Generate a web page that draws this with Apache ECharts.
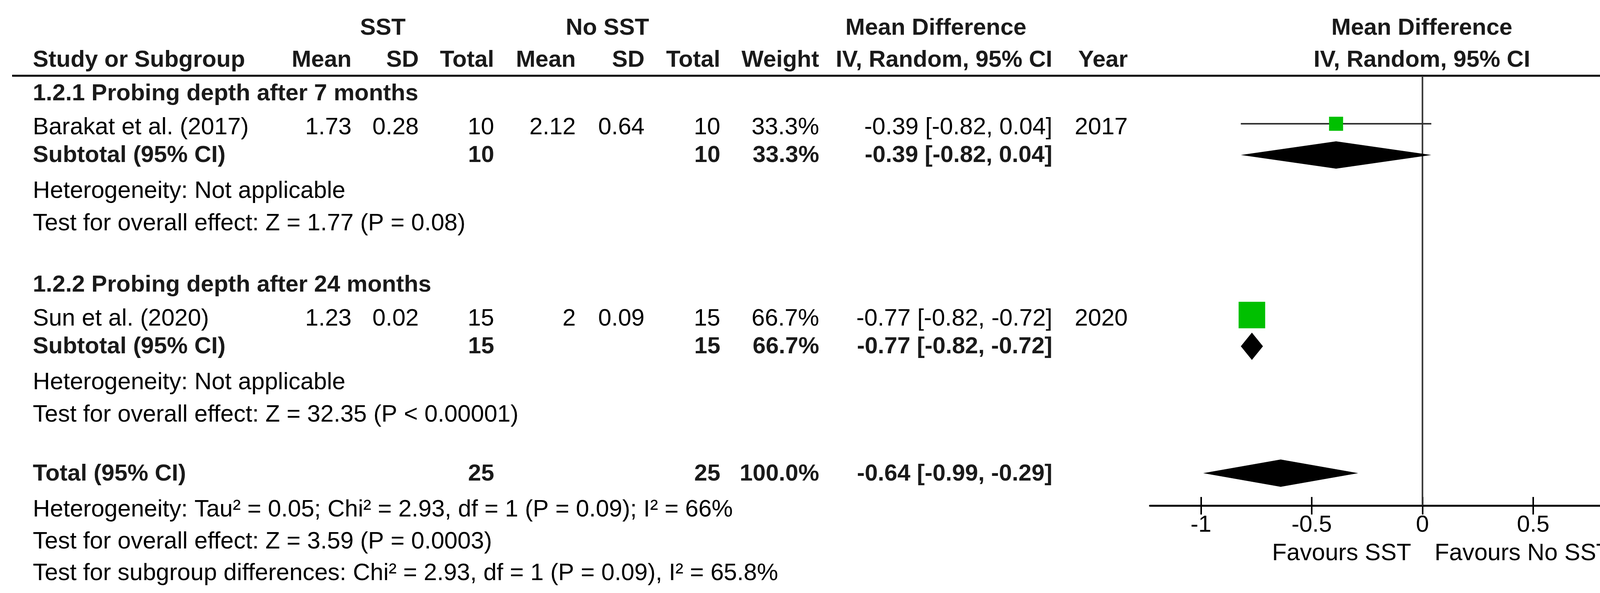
<!DOCTYPE html>
<html><head><meta charset="utf-8">
<script src="https://cdn.jsdelivr.net/npm/echarts@6/dist/echarts.min.js"></script>
<style>html,body{margin:0;padding:0;background:#fff}#c{width:4395px;height:1519px}</style>
</head><body><div id="c"></div>
<script>
// ---------------- DATA ----------------
const groupLabels = ['1.2.1 Probing depth after 7 months', '1.2.2 Probing depth after 24 months'];
const studies = ['Barakat et al. (2017)', 'Sun et al. (2020)'];
const sstMean = [1.73, 1.23];
const sstSD = [0.28, 0.02];
const sstN = [10, 15];
const noMean = [2.12, 2];
const noSD = [0.64, 0.09];
const noN = [10, 15];
const weights = [33.3, 66.7];
const md = [-0.39, -0.77];
const mdLo = [-0.82, -0.82];
const mdHi = [0.04, -0.72];
const years = [2017, 2020];
const subN1 = [10, 15];
const subN2 = [10, 15];
const subWeight = [33.3, 66.7];
const subMD = [-0.39, -0.77];
const subLo = [-0.82, -0.82];
const subHi = [0.04, -0.72];
const subHet = ['Heterogeneity: Not applicable', 'Heterogeneity: Not applicable'];
const subEffect = ['Test for overall effect: Z = 1.77 (P = 0.08)', 'Test for overall effect: Z = 32.35 (P < 0.00001)'];
const totalN1 = 25;
const totalN2 = 25;
const totalWeight = 100.0;
const totalMD = -0.64;
const totalLo = -0.99;
const totalHi = -0.29;
const totalHet = 'Heterogeneity: Tau\u00b2 = 0.05; Chi\u00b2 = 2.93, df = 1 (P = 0.09); I\u00b2 = 66%';
const totalEffect = 'Test for overall effect: Z = 3.59 (P = 0.0003)';
const subgroupTest = 'Test for subgroup differences: Chi\u00b2 = 2.93, df = 1 (P = 0.09), I\u00b2 = 65.8%';
const axisTicks = [-1, -0.5, 0, 0.5, 1];
const favours = ['Favours SST', 'Favours No SST'];

// ---------------- LAYOUT ----------------
const W = 4395, H = 1519;
const FONT = "'Liberation Sans', Arial, sans-serif";
const COL = { name: 84, sstMean: 900, sstSD: 1072, sstN: 1265, noMean: 1474, noSD: 1650, noN: 1844,
  weight: 2097, ci: 2694, year: 2887, sstHead: 980, noHead: 1555, mdHead: 2396, plotHead: 3640 };
const GROUP_STEP = 490;
const ROW = { h1: 72, h2: 154, line: 194, g: 240, study: 327, studyMark: 317, sub: 398, het: 490, eff: 573,
  total: 1214, totalMark: 1212, thet: 1306, teff: 1388, tsub: 1469, axis: 1295, fav: 1418 };
const PLOT = { left: 2944, width: 1395, xMin: -1.23, xMax: 1.23 };

const f2 = v => v.toFixed(2);
const ciText = (m, l, h) => f2(m) + ' [' + f2(l) + ', ' + f2(h) + ']';

const cells = [];
function cell(x, y, text, align, bold) { cells.push({ x, y, text: String(text), align, bold: !!bold }); }

// headers
cell(COL.sstHead, ROW.h1, 'SST', 'center', true);
cell(COL.noHead, ROW.h1, 'No SST', 'center', true);
cell(COL.mdHead, ROW.h1, 'Mean Difference', 'center', true);
cell(COL.plotHead, ROW.h1, 'Mean Difference', 'center', true);
cell(COL.name, ROW.h2, 'Study or Subgroup', 'left', true);
cell(COL.sstMean, ROW.h2, 'Mean', 'right', true);
cell(COL.sstSD, ROW.h2, 'SD', 'right', true);
cell(COL.sstN, ROW.h2, 'Total', 'right', true);
cell(COL.noMean, ROW.h2, 'Mean', 'right', true);
cell(COL.noSD, ROW.h2, 'SD', 'right', true);
cell(COL.noN, ROW.h2, 'Total', 'right', true);
cell(COL.weight, ROW.h2, 'Weight', 'right', true);
cell(COL.ci, ROW.h2, 'IV, Random, 95% CI', 'right', true);
cell(COL.year, ROW.h2, 'Year', 'right', true);
cell(COL.plotHead, ROW.h2, 'IV, Random, 95% CI', 'center', true);

for (let g = 0; g < studies.length; g++) {
  const off = g * GROUP_STEP;
  cell(COL.name, ROW.g + off, groupLabels[g], 'left', true);
  const y = ROW.study + off;
  cell(COL.name, y, studies[g], 'left');
  cell(COL.sstMean, y, sstMean[g], 'right');
  cell(COL.sstSD, y, sstSD[g], 'right');
  cell(COL.sstN, y, sstN[g], 'right');
  cell(COL.noMean, y, noMean[g], 'right');
  cell(COL.noSD, y, noSD[g], 'right');
  cell(COL.noN, y, noN[g], 'right');
  cell(COL.weight, y, weights[g].toFixed(1) + '%', 'right');
  cell(COL.ci, y, ciText(md[g], mdLo[g], mdHi[g]), 'right');
  cell(COL.year, y, years[g], 'right');
  const ys = ROW.sub + off;
  cell(COL.name, ys, 'Subtotal (95% CI)', 'left', true);
  cell(COL.sstN, ys, subN1[g], 'right', true);
  cell(COL.noN, ys, subN2[g], 'right', true);
  cell(COL.weight, ys, subWeight[g].toFixed(1) + '%', 'right', true);
  cell(COL.ci, ys, ciText(subMD[g], subLo[g], subHi[g]), 'right', true);
  cell(COL.name, ROW.het + off, subHet[g], 'left');
  cell(COL.name, ROW.eff + off, subEffect[g], 'left');
}
cell(COL.name, ROW.total, 'Total (95% CI)', 'left', true);
cell(COL.sstN, ROW.total, totalN1, 'right', true);
cell(COL.noN, ROW.total, totalN2, 'right', true);
cell(COL.weight, ROW.total, totalWeight.toFixed(1) + '%', 'right', true);
cell(COL.ci, ROW.total, ciText(totalMD, totalLo, totalHi), 'right', true);
cell(COL.name, ROW.thet, totalHet, 'left');
cell(COL.name, ROW.teff, totalEffect, 'left');
cell(COL.name, ROW.tsub, subgroupTest, 'left');

// forest data
const studyMarks = studies.map((s, i) => [md[i], mdLo[i], mdHi[i], weights[i], ROW.studyMark + i * GROUP_STEP]);
const diamonds = subMD.map((m, i) => [m, subLo[i], subHi[i], ROW.sub + i * GROUP_STEP - 1])
  .concat([[totalMD, totalLo, totalHi, ROW.totalMark]]);
const squareSide = w => 4 + 0.96 * w;
const DIAMOND_HALF = 35;

const chart = echarts.init(document.getElementById('c'), null, { renderer: 'canvas' });
chart.setOption({
  backgroundColor: '#ffffff',
  animation: false,
  grid: [
    { left: 0, top: 0, width: W, height: H },
    { left: PLOT.left, width: PLOT.width, top: ROW.line, height: ROW.axis - ROW.line }
  ],
  xAxis: [
    { gridIndex: 0, type: 'value', min: 0, max: W, show: false },
    { gridIndex: 1, type: 'value', min: PLOT.xMin, max: PLOT.xMax, position: 'bottom',
      axisLine: { show: true, lineStyle: { color: '#000', width: 5 } },
      axisTick: { show: true, customValues: axisTicks, length: 23, lineStyle: { color: '#000', width: 4 } },
      axisLabel: { show: true, customValues: axisTicks, margin: 20, fontSize: 60, fontFamily: FONT, color: '#000',
        formatter: v => String(v) },
      splitLine: { show: false } },
    { gridIndex: 1, type: 'value', min: PLOT.xMin, max: PLOT.xMax, position: 'bottom',
      axisLine: { show: false },
      axisTick: { show: true, inside: true, customValues: axisTicks, length: 22, lineStyle: { color: '#000', width: 4 } },
      axisLabel: { show: false }, splitLine: { show: false } }
  ],
  yAxis: [
    { gridIndex: 0, type: 'value', min: 0, max: H, inverse: true, show: false },
    { gridIndex: 1, type: 'value', min: ROW.line, max: ROW.axis, inverse: true, show: false }
  ],
  series: [
    { // header rule
      type: 'custom', xAxisIndex: 0, yAxisIndex: 0, silent: true, clip: false,
      data: [[31, ROW.line]],
      renderItem: (p, api) => {
        const a = api.coord([31, ROW.line]), b = api.coord([4393, ROW.line]);
        return { type: 'line', shape: { x1: a[0], y1: a[1], x2: b[0], y2: b[1] }, style: { stroke: '#000', lineWidth: 5 } };
      }
    },
    { // table text
      type: 'custom', xAxisIndex: 0, yAxisIndex: 0, silent: true, clip: false,
      data: cells.map(c => [c.x, c.y]),
      renderItem: (p, api) => {
        const c = cells[p.dataIndex];
        const pt = api.coord([c.x, c.y]);
        return { type: 'text', x: pt[0], y: pt[1], style: {
          text: c.text, align: c.align, verticalAlign: 'middle',
          font: (c.bold ? 'bold 60px ' : '61px ') + FONT, fill: c.bold ? '#1a1a1a' : '#000' } };
      }
    },
    { // zero line
      type: 'custom', xAxisIndex: 1, yAxisIndex: 1, silent: true, clip: false,
      data: [[0]],
      renderItem: (p, api) => {
        const a = api.coord([0, ROW.line]), b = api.coord([0, ROW.axis]);
        return { type: 'line', shape: { x1: a[0], y1: a[1], x2: b[0], y2: b[1] }, style: { stroke: '#333', lineWidth: 4 } };
      }
    },
    { // favours labels
      type: 'custom', xAxisIndex: 1, yAxisIndex: 1, silent: true, clip: false,
      data: [[0, 0], [0, 1]],
      renderItem: (p, api) => {
        const a = api.coord([0, ROW.axis]);
        const left = p.dataIndex === 0;
        return { type: 'text', x: a[0] + (left ? -29 : 31), y: a[1] + (ROW.fav - ROW.axis), style: {
          text: favours[p.dataIndex], align: left ? 'right' : 'left', verticalAlign: 'middle',
          font: '61px ' + FONT, fill: '#000' } };
      }
    },
    { // study CI lines + squares
      type: 'custom', xAxisIndex: 1, yAxisIndex: 1, silent: true, clip: false,
      data: studyMarks,
      renderItem: (p, api) => {
        const m = api.value(0), l = api.value(1), h = api.value(2), w = api.value(3), y = api.value(4);
        const pl = api.coord([l, y]), ph = api.coord([h, y]), pc = api.coord([m, y]);
        const s = squareSide(w);
        return { type: 'group', children: [
          { type: 'line', shape: { x1: pl[0], y1: pl[1], x2: ph[0], y2: ph[1] }, style: { stroke: '#333', lineWidth: 4 } },
          { type: 'rect', shape: { x: pc[0] - s / 2, y: pc[1] - s / 2, width: s, height: s }, style: { fill: '#00c000' } }
        ] };
      }
    },
    { // diamonds
      type: 'custom', xAxisIndex: 1, yAxisIndex: 1, silent: true, clip: false,
      data: diamonds,
      renderItem: (p, api) => {
        const m = api.value(0), l = api.value(1), h = api.value(2), y = api.value(3);
        const pl = api.coord([l, y]), ph = api.coord([h, y]), pc = api.coord([m, y]);
        return { type: 'polygon', shape: { points: [[pl[0], pl[1]], [pc[0], pc[1] - DIAMOND_HALF], [ph[0], ph[1]], [pc[0], pc[1] + DIAMOND_HALF]] },
          style: { fill: '#000' } };
      }
    }
  ]
});
</script>
</body></html>
